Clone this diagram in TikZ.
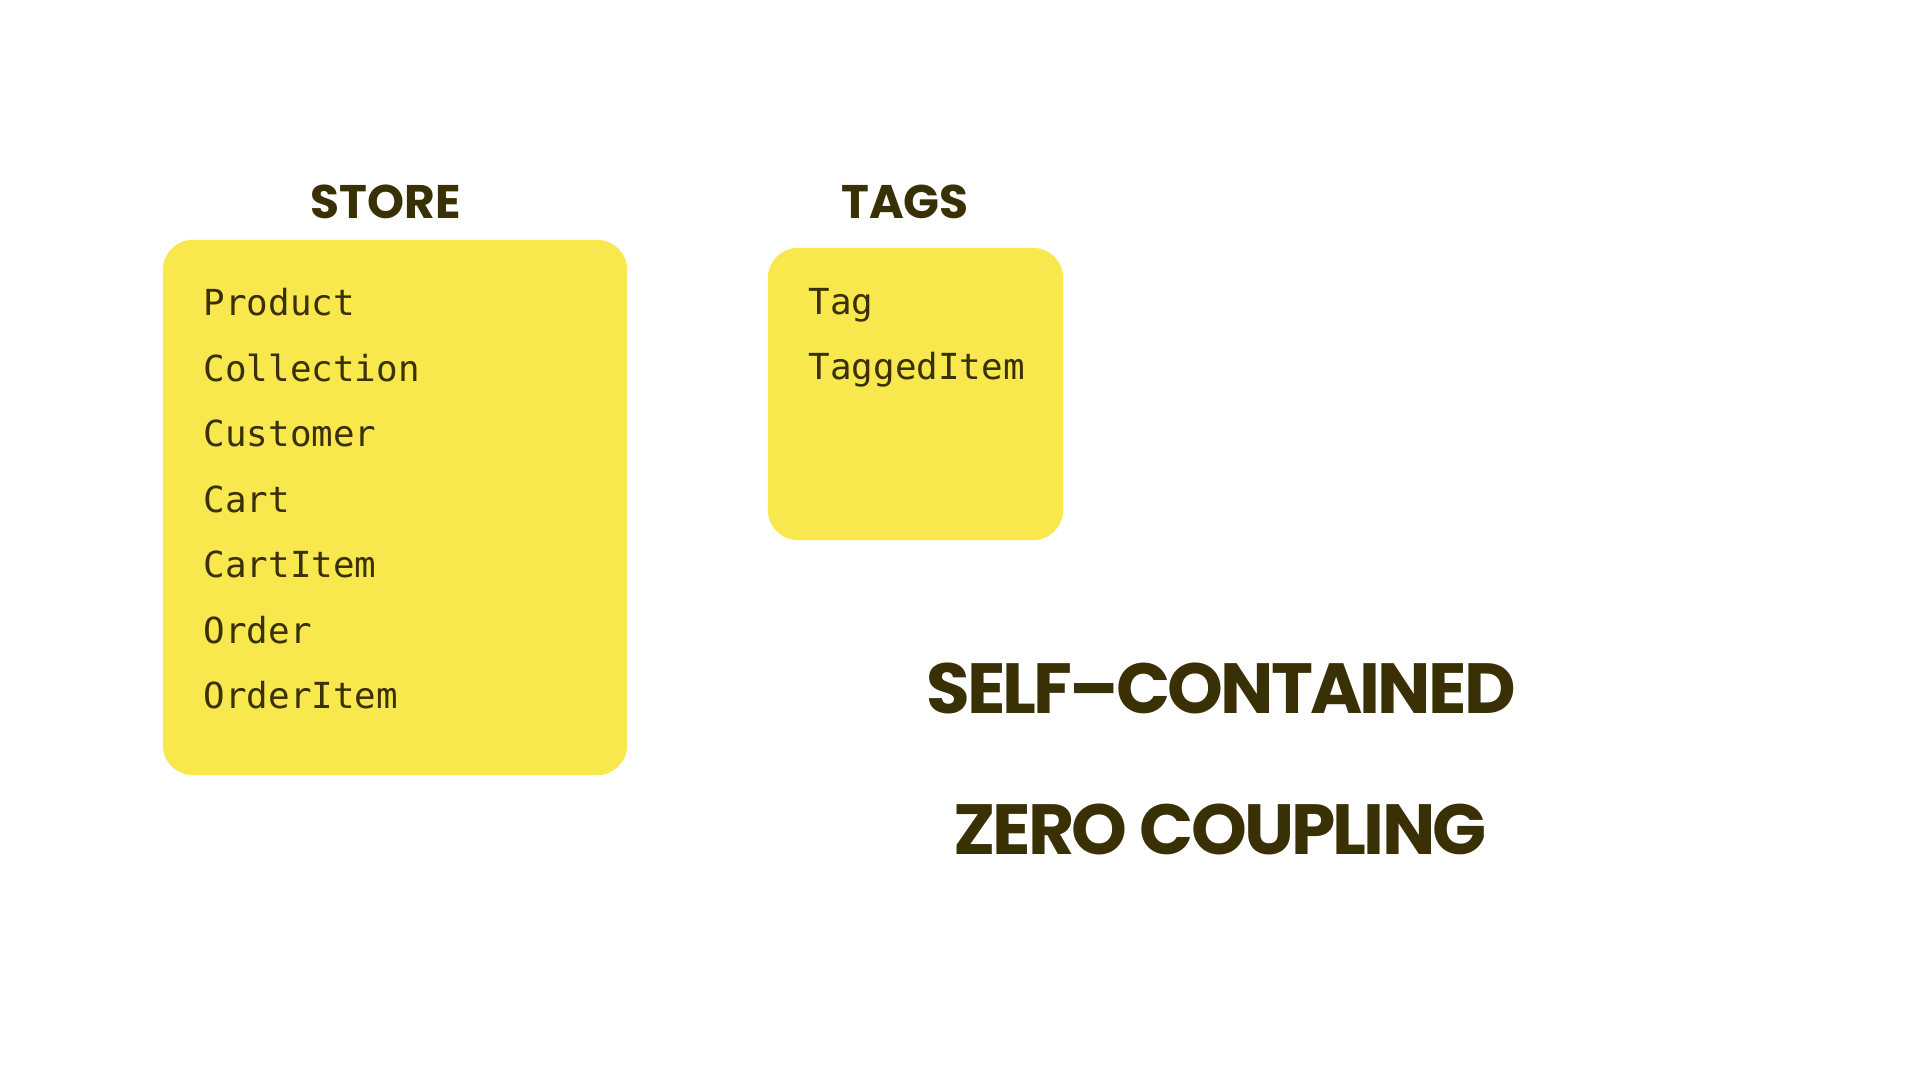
\documentclass[tikz,border=0pt]{standalone}
\usepackage{fontspec}
\newfontfamily\poppins{Poppins}
\newfontfamily\poppinstight{Poppins}[LetterSpace=-4]
\newfontfamily\monof{DejaVu Sans Mono}
\definecolor{boxyellow}{HTML}{F8E84E}
\definecolor{inkbrown}{HTML}{3A3005}
\begin{document}
\begin{tikzpicture}[x=0.01cm,y=-0.01cm,
  panel/.style={fill=boxyellow,draw=none,rounded corners=0.3cm,inner sep=0pt},
  heading/.style={anchor=base,text=inkbrown,font=\poppins\bfseries\fontsize{13.4pt}{16pt}\selectfont,inner sep=0pt},
  slogan/.style={anchor=base,text=inkbrown,font=\poppinstight\bfseries\fontsize{20.2pt}{24pt}\selectfont,inner sep=0pt},
  item/.style={anchor=base west,text=inkbrown,font=\monof\fontsize{10.2pt}{12pt}\selectfont,inner sep=0pt}]
\useasboundingbox[fill=white] (0,0) rectangle (1920,1080);
\node[panel,minimum width=4.64cm,minimum height=5.35cm] (store) at (395,507.5) {};
\node[panel,minimum width=2.95cm,minimum height=2.92cm] (tags) at (915.5,394) {};
\node[heading] (storet) at (386,219) {STORE};
\node[heading] (tagst) at (905,219) {TAGS};
\node[item] (i1) at (203,316) {Product};
\node[item] (i2) at (203,381.5) {Collection};
\node[item] (i3) at (203,447) {Customer};
\node[item] (i4) at (203,512.5) {Cart};
\node[item] (i5) at (203,578) {CartItem};
\node[item] (i6) at (203,643.5) {Order};
\node[item] (i7) at (203,709) {OrderItem};
\node[item] (t1) at (808,315) {Tag};
\node[item] (t2) at (808,380) {TaggedItem};
\node[slogan] (s1) at (1221,714) {SELF–CONTAINED};
\node[slogan] (s2) at (1220,855) {ZERO COUPLING};
\end{tikzpicture}
\end{document}
